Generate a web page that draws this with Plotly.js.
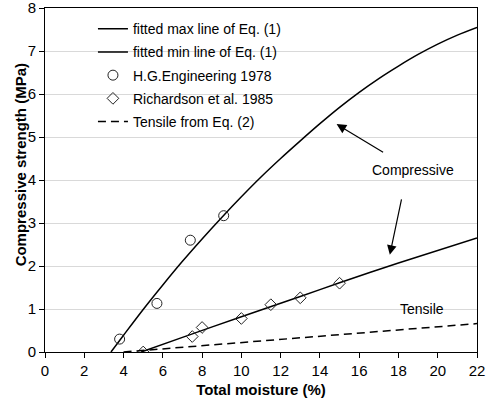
<!DOCTYPE html>
<html>
<head>
<meta charset="utf-8">
<script src="https://cdn.plot.ly/plotly-3.0.1.min.js"></script>
<style>html,body{margin:0;padding:0;background:#fff;}#chart{width:486px;height:400px;}</style>
</head>
<body>
<div id="chart"></div>
<script>
// Fitted max line of Eq. (1)
const maxX = [3.36, 4, 5, 6, 7, 8, 9, 10, 11, 12, 13, 14, 15, 16, 17, 18, 19, 20, 21, 22];
const maxY = [0, 0.39, 0.99, 1.56, 2.11, 2.63, 3.13, 3.61, 4.07, 4.5, 4.91, 5.31, 5.69, 6.04, 6.36, 6.65, 6.92, 7.16, 7.37, 7.55];
// Fitted min line of Eq. (1)
const minX = [4.9, 7.0, 10.0, 13.0, 15.0, 18.0, 22.0];
const minY = [0, 0.34, 0.82, 1.29, 1.61, 2.07, 2.65];
// H.G.Engineering 1978
const hgX = [3.8, 5.7, 7.4, 9.1];
const hgY = [0.3, 1.13, 2.6, 3.17];
// Richardson et al. 1985
const riX = [5.0, 7.5, 8.0, 10.0, 11.5, 13.0, 15.0];
const riY = [0.0, 0.36, 0.57, 0.78, 1.1, 1.26, 1.6];
// Tensile from Eq. (2)
const tenX = [4.0, 22.0];
const tenY = [0, 0.66];

const names = ['fitted max line of Eq. (1)', 'fitted min line of Eq. (1)', 'H.G.Engineering 1978', 'Richardson et al. 1985', 'Tensile from Eq. (2)'];
const FONT = 'Liberation Sans, Arial, sans-serif';

const traces = [
  {x: maxX, y: maxY, name: names[0], mode: 'lines', line: {color: '#000', width: 1.5, shape: 'spline', smoothing: 1}, legendgroup: 'a'},
  {x: minX, y: minY, name: names[1], mode: 'lines', line: {color: '#000', width: 1.5, shape: 'spline', smoothing: 0.6}, legendgroup: 'b'},
  {x: hgX, y: hgY, name: names[2], mode: 'markers', marker: {symbol: 'circle-open', size: 10, color: '#222', line: {width: 1}}, legendgroup: 'c'},
  {x: riX, y: riY, name: names[3], mode: 'markers', marker: {symbol: 'diamond-open', size: 9, color: '#222', line: {width: 1}}, legendgroup: 'd'},
  {x: tenX, y: tenY, name: names[4], mode: 'lines', line: {color: '#000', width: 1.5, dash: '8px,5px'}, legendgroup: 'e'}
];

const layout = {
  width: 486, height: 400,
  margin: {l: 45, r: 9, t: 8, b: 48},
  paper_bgcolor: '#fff', plot_bgcolor: '#fff',
  font: {family: FONT, size: 15, color: '#000'},
  showlegend: true,
  legend: {x: 0.111, y: 0.985, xanchor: 'left', yanchor: 'top', bgcolor: 'rgba(0,0,0,0)', font: {size: 14, family: FONT}, traceorder: 'grouped', tracegroupgap: 2},
  xaxis: {
    range: [0, 22], dtick: 2, tick0: 0,
    showline: true, linecolor: '#000', linewidth: 1, mirror: true,
    ticks: 'outside', ticklen: 5, tickcolor: '#000',
    showgrid: false, zeroline: false,
    tickfont: {size: 15}, ticklabeloverflow: 'allow',
    title: {text: '<b>Total moisture (%)</b>', font: {size: 15}, standoff: 6}
  },
  yaxis: {
    range: [0, 8], dtick: 1, tick0: 0,
    showline: true, linecolor: '#000', linewidth: 1, mirror: true,
    ticks: 'outside', ticklen: 5, tickcolor: '#000',
    showgrid: true, gridcolor: '#d9d9d9', gridwidth: 1, zeroline: false,
    tickfont: {size: 15}, ticklabeloverflow: 'allow'
  },
  annotations: [
    {x: -0.081, y: 0.544, xref: 'paper', yref: 'paper', showarrow: false, textangle: -90, text: '<b>Compressive strength (MPa)</b>', font: {size: 15}},
    {x: 14.85, y: 5.3, xref: 'x', yref: 'y', ax: 48, ay: 29, showarrow: true, arrowhead: 2, arrowsize: 1.6, arrowwidth: 1.2, arrowcolor: '#000', text: ''},
    {x: 17.56, y: 2.26, xref: 'x', yref: 'y', ax: 12, ay: -57, showarrow: true, arrowhead: 2, arrowsize: 1.6, arrowwidth: 1.2, arrowcolor: '#000', text: ''},
    {x: 18.73, y: 4.24, xref: 'x', yref: 'y', showarrow: false, text: 'Compressive', font: {size: 14}},
    {x: 19.21, y: 1.01, xref: 'x', yref: 'y', showarrow: false, text: 'Tensile', font: {size: 14}}
  ]
};

Plotly.newPlot('chart', traces, layout, {displayModeBar: false, staticPlot: true});
</script>
</body>
</html>
